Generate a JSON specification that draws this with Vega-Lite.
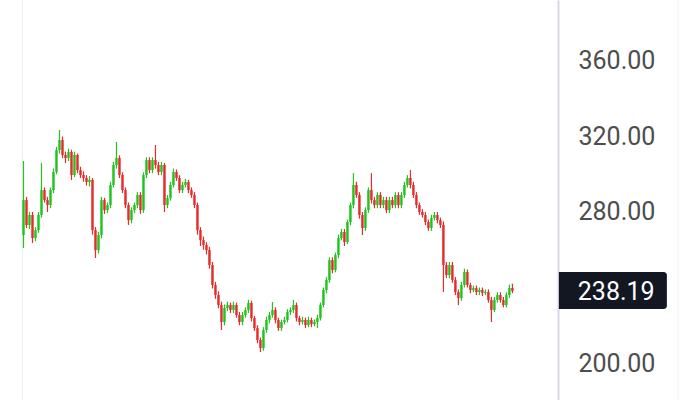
{
  "$schema": "https://vega.github.io/schema/vega-lite/v6.json",
  "width": 536,
  "height": 400,
  "autosize": "none",
  "padding": {"left": 22, "right": 142, "top": 0, "bottom": 0},
  "background": "#ffffff",
  "view": {"stroke": null},
  "config": {"font": "Roboto"},
  "data": {"values": [
    {"i":0,"o":267.8,"h":307.0,"l":260.9,"c":286.3},
    {"i":1,"o":286.3,"h":288,"l":271.5,"c":273.1},
    {"i":2,"o":273.1,"h":280,"l":271,"c":278.4},
    {"i":3,"o":278.4,"h":280,"l":263.6,"c":266.2},
    {"i":4,"o":266.2,"h":272,"l":264.5,"c":270.4},
    {"i":5,"o":270.4,"h":280,"l":269,"c":278.4},
    {"i":6,"o":278.4,"h":305.9,"l":277,"c":291.6},
    {"i":7,"o":291.6,"h":293,"l":285,"c":286.3},
    {"i":8,"o":286.3,"h":288,"l":280,"c":283.7},
    {"i":9,"o":283.7,"h":293,"l":282,"c":291.6},
    {"i":10,"o":291.6,"h":303,"l":290,"c":301.2},
    {"i":11,"o":301.2,"h":314.5,"l":300,"c":312.8},
    {"i":12,"o":312.8,"h":323.4,"l":311,"c":318.1},
    {"i":13,"o":318.1,"h":320,"l":308.5,"c":310.2},
    {"i":14,"o":310.2,"h":312,"l":306,"c":308.6},
    {"i":15,"o":308.6,"h":313.5,"l":307,"c":311.8},
    {"i":16,"o":311.8,"h":313,"l":297,"c":299.6},
    {"i":17,"o":299.6,"h":312,"l":298.5,"c":310.2},
    {"i":18,"o":310.2,"h":311,"l":300.5,"c":302.2},
    {"i":19,"o":302.2,"h":304,"l":298,"c":299.6},
    {"i":20,"o":299.6,"h":301.5,"l":296,"c":298.0},
    {"i":21,"o":298.0,"h":299.5,"l":294,"c":295.9},
    {"i":22,"o":295.9,"h":299,"l":293.5,"c":297.0},
    {"i":23,"o":297.0,"h":298,"l":268,"c":270.4},
    {"i":24,"o":270.4,"h":272,"l":255.6,"c":259.8},
    {"i":25,"o":259.8,"h":269.5,"l":258,"c":267.8},
    {"i":26,"o":267.8,"h":288,"l":266,"c":286.3},
    {"i":27,"o":286.3,"h":287.5,"l":279,"c":281.0},
    {"i":28,"o":281.0,"h":285,"l":279.5,"c":283.7},
    {"i":29,"o":283.7,"h":296,"l":282,"c":294.3},
    {"i":30,"o":294.3,"h":306.5,"l":293,"c":304.9},
    {"i":31,"o":304.9,"h":317.1,"l":303,"c":308.6},
    {"i":32,"o":308.6,"h":310,"l":298,"c":299.6},
    {"i":33,"o":299.6,"h":301,"l":290,"c":291.6},
    {"i":34,"o":291.6,"h":293,"l":282,"c":283.7},
    {"i":35,"o":283.7,"h":285,"l":273.1,"c":275.7},
    {"i":36,"o":275.7,"h":282.5,"l":274,"c":281.0},
    {"i":37,"o":281.0,"h":285,"l":279.5,"c":283.7},
    {"i":38,"o":283.7,"h":290.5,"l":282,"c":289.0},
    {"i":39,"o":289.0,"h":290.5,"l":279,"c":281.0},
    {"i":40,"o":281.0,"h":301,"l":279.5,"c":299.6},
    {"i":41,"o":299.6,"h":309,"l":298,"c":307.5},
    {"i":42,"o":307.5,"h":309,"l":300.5,"c":302.2},
    {"i":43,"o":302.2,"h":309,"l":300.5,"c":307.5},
    {"i":44,"o":307.5,"h":315.5,"l":303,"c":304.9},
    {"i":45,"o":304.9,"h":306.5,"l":299.5,"c":301.2},
    {"i":46,"o":301.2,"h":306.5,"l":299.5,"c":304.9},
    {"i":47,"o":304.9,"h":306,"l":280,"c":283.7},
    {"i":48,"o":283.7,"h":289,"l":282,"c":287.4},
    {"i":49,"o":287.4,"h":296,"l":286,"c":294.3},
    {"i":50,"o":294.3,"h":303,"l":293,"c":301.2},
    {"i":51,"o":301.2,"h":302.5,"l":296.5,"c":298.0},
    {"i":52,"o":298.0,"h":299.5,"l":290,"c":291.6},
    {"i":53,"o":291.6,"h":296,"l":290,"c":294.3},
    {"i":54,"o":294.3,"h":297.5,"l":293,"c":295.9},
    {"i":55,"o":295.9,"h":297,"l":290,"c":291.6},
    {"i":56,"o":291.6,"h":293,"l":287.5,"c":289.0},
    {"i":57,"o":289.0,"h":290.5,"l":282,"c":283.7},
    {"i":58,"o":283.7,"h":285,"l":268,"c":270.4},
    {"i":59,"o":270.4,"h":272,"l":262,"c":265.1},
    {"i":60,"o":265.1,"h":267,"l":260,"c":262.5},
    {"i":61,"o":262.5,"h":264,"l":257.5,"c":259.8},
    {"i":62,"o":259.8,"h":261.5,"l":250,"c":251.9},
    {"i":63,"o":251.9,"h":253.5,"l":239.5,"c":241.3},
    {"i":64,"o":241.3,"h":243,"l":234,"c":236.0},
    {"i":65,"o":236.0,"h":238,"l":229,"c":230.7},
    {"i":66,"o":230.7,"h":232.5,"l":217.5,"c":221.7},
    {"i":67,"o":221.7,"h":231,"l":220,"c":229.1},
    {"i":68,"o":229.1,"h":232.5,"l":227.5,"c":230.7},
    {"i":69,"o":230.7,"h":232,"l":226.5,"c":228.1},
    {"i":70,"o":228.1,"h":232.5,"l":226.5,"c":230.7},
    {"i":71,"o":230.7,"h":232,"l":224,"c":225.4},
    {"i":72,"o":225.4,"h":227,"l":220,"c":221.7},
    {"i":73,"o":221.7,"h":227,"l":220,"c":225.4},
    {"i":74,"o":225.4,"h":229.5,"l":224,"c":228.1},
    {"i":75,"o":228.1,"h":233.5,"l":226.5,"c":231.8},
    {"i":76,"o":231.8,"h":233,"l":222,"c":223.8},
    {"i":77,"o":223.8,"h":225,"l":217,"c":218.5},
    {"i":78,"o":218.5,"h":220,"l":210.5,"c":212.2},
    {"i":79,"o":212.2,"h":213.5,"l":205.8,"c":207.9},
    {"i":80,"o":207.9,"h":219,"l":206.5,"c":217.5},
    {"i":81,"o":217.5,"h":224.5,"l":216,"c":222.8},
    {"i":82,"o":222.8,"h":227,"l":221,"c":225.4},
    {"i":83,"o":225.4,"h":232.3,"l":224,"c":228.1},
    {"i":84,"o":228.1,"h":229.5,"l":221,"c":222.8},
    {"i":85,"o":222.8,"h":224,"l":217,"c":218.5},
    {"i":86,"o":218.5,"h":223,"l":217,"c":221.7},
    {"i":87,"o":221.7,"h":224.5,"l":220.5,"c":222.8},
    {"i":88,"o":222.8,"h":228.5,"l":221.5,"c":227.0},
    {"i":89,"o":227.0,"h":229.5,"l":225.5,"c":228.1},
    {"i":90,"o":228.1,"h":233.4,"l":226.5,"c":230.7},
    {"i":91,"o":230.7,"h":232,"l":222,"c":223.8},
    {"i":92,"o":223.8,"h":225,"l":220,"c":221.7},
    {"i":93,"o":221.7,"h":224.5,"l":220.5,"c":222.8},
    {"i":94,"o":222.8,"h":224,"l":218.5,"c":220.1},
    {"i":95,"o":220.1,"h":224.5,"l":219,"c":222.8},
    {"i":96,"o":222.8,"h":224,"l":219,"c":220.6},
    {"i":97,"o":220.6,"h":223,"l":219.5,"c":221.7},
    {"i":98,"o":221.7,"h":225.5,"l":218.5,"c":223.8},
    {"i":99,"o":223.8,"h":232,"l":222.5,"c":230.7},
    {"i":100,"o":230.7,"h":240,"l":229.5,"c":238.7},
    {"i":101,"o":238.7,"h":245.5,"l":237,"c":244.0},
    {"i":102,"o":244.0,"h":256,"l":242.5,"c":254.5},
    {"i":103,"o":254.5,"h":256,"l":247.5,"c":249.3},
    {"i":104,"o":249.3,"h":258.5,"l":248,"c":257.2},
    {"i":105,"o":257.2,"h":268,"l":255.5,"c":266.2},
    {"i":106,"o":266.2,"h":271,"l":265,"c":269.4},
    {"i":107,"o":269.4,"h":271,"l":262,"c":264.1},
    {"i":108,"o":264.1,"h":276,"l":263,"c":274.7},
    {"i":109,"o":274.7,"h":285,"l":273,"c":283.7},
    {"i":110,"o":283.7,"h":300.6,"l":282,"c":294.3},
    {"i":111,"o":294.3,"h":296,"l":287.5,"c":289.0},
    {"i":112,"o":289.0,"h":290.5,"l":276.5,"c":278.4},
    {"i":113,"o":278.4,"h":280,"l":267.8,"c":271.5},
    {"i":114,"o":271.5,"h":282.5,"l":270,"c":281.0},
    {"i":115,"o":281.0,"h":293,"l":279.5,"c":291.6},
    {"i":116,"o":291.6,"h":300.6,"l":284.5,"c":286.3},
    {"i":117,"o":286.3,"h":288,"l":282,"c":283.7},
    {"i":118,"o":283.7,"h":290.5,"l":282,"c":289.0},
    {"i":119,"o":289.0,"h":290.5,"l":282,"c":283.7},
    {"i":120,"o":283.7,"h":288,"l":282,"c":286.3},
    {"i":121,"o":286.3,"h":288,"l":279.5,"c":281.0},
    {"i":122,"o":281.0,"h":288,"l":279.5,"c":286.3},
    {"i":123,"o":286.3,"h":288,"l":282,"c":283.7},
    {"i":124,"o":283.7,"h":290.5,"l":282,"c":289.0},
    {"i":125,"o":289.0,"h":290.5,"l":282,"c":283.7},
    {"i":126,"o":283.7,"h":290.5,"l":282,"c":289.0},
    {"i":127,"o":289.0,"h":296,"l":287.5,"c":294.3},
    {"i":128,"o":294.3,"h":299.5,"l":293,"c":298.0},
    {"i":129,"o":298.0,"h":302.2,"l":292.5,"c":294.3},
    {"i":130,"o":294.3,"h":296,"l":287.5,"c":289.0},
    {"i":131,"o":289.0,"h":290.5,"l":282,"c":283.7},
    {"i":132,"o":283.7,"h":285,"l":278.5,"c":280.0},
    {"i":133,"o":280.0,"h":281.5,"l":277,"c":278.4},
    {"i":134,"o":278.4,"h":280,"l":273,"c":274.7},
    {"i":135,"o":274.7,"h":276,"l":270,"c":271.5},
    {"i":136,"o":271.5,"h":278.5,"l":270,"c":276.8},
    {"i":137,"o":276.8,"h":280,"l":275.5,"c":278.4},
    {"i":138,"o":278.4,"h":280,"l":274,"c":275.7},
    {"i":139,"o":275.7,"h":277,"l":271.5,"c":273.1},
    {"i":140,"o":273.1,"h":275,"l":237.6,"c":251.9},
    {"i":141,"o":251.9,"h":253.5,"l":245,"c":246.6},
    {"i":142,"o":246.6,"h":253.5,"l":245,"c":251.9},
    {"i":143,"o":251.9,"h":253.5,"l":242.5,"c":244.0},
    {"i":144,"o":244.0,"h":245.5,"l":236,"c":237.6},
    {"i":145,"o":237.6,"h":239,"l":230.7,"c":234.4},
    {"i":146,"o":234.4,"h":243,"l":233,"c":241.3},
    {"i":147,"o":241.3,"h":250,"l":240,"c":248.2},
    {"i":148,"o":248.2,"h":249.5,"l":240,"c":241.3},
    {"i":149,"o":241.3,"h":242.5,"l":237,"c":238.7},
    {"i":150,"o":238.7,"h":241,"l":237.5,"c":239.7},
    {"i":151,"o":239.7,"h":241,"l":236,"c":237.6},
    {"i":152,"o":237.6,"h":240,"l":236,"c":238.7},
    {"i":153,"o":238.7,"h":240,"l":235.5,"c":237.1},
    {"i":154,"o":237.1,"h":239,"l":236,"c":237.6},
    {"i":155,"o":237.6,"h":239,"l":232,"c":233.4},
    {"i":156,"o":233.4,"h":235,"l":221.7,"c":228.1},
    {"i":157,"o":228.1,"h":235,"l":227,"c":233.4},
    {"i":158,"o":233.4,"h":237.5,"l":232,"c":236.0},
    {"i":159,"o":236.0,"h":237.5,"l":232,"c":233.4},
    {"i":160,"o":233.4,"h":235,"l":229.5,"c":230.7},
    {"i":161,"o":230.7,"h":237.5,"l":229.5,"c":236.0},
    {"i":162,"o":236.0,"h":241.5,"l":234.5,"c":239.7},
    {"i":163,"o":239.7,"h":242,"l":237,"c":238.19}
  ]},
  "encoding": {
    "x": {"field": "i", "type": "quantitative", "scale": {"domain": [-0.5, 178.2], "nice": false, "zero": false, "padding": 0}, "axis": null}
  },
  "layer": [
    {
      "mark": {"type": "rule", "strokeWidth": 1.2},
      "encoding": {
        "y": {"field": "l", "type": "quantitative", "scale": {"domain": [180.4, 392.3], "nice": false, "zero": false},
          "axis": {"orient": "left", "labels": false, "ticks": false, "grid": false, "title": null, "domainColor": "#eeeeee", "domainWidth": 1}},
        "y2": {"field": "h"},
        "color": {"condition": {"test": "datum.c >= datum.o", "value": "#1fc41f"}, "value": "#e62b2b"}
      }
    },
    {
      "mark": {"type": "bar", "size": 2.4, "minBandSize": 1},
      "encoding": {
        "y": {"field": "o", "type": "quantitative",
          "axis": {"orient": "right", "values": [200, 280, 320, 360], "format": ".2f", "grid": false, "ticks": false, "title": null,
            "labelFontSize": 25, "labelColor": "#4d4d4d", "labelPadding": 20, "labelAlign": "left", "labelFont": "Roboto",
            "domainColor": "#d6dae3", "domainWidth": 2}},
        "y2": {"field": "c"},
        "color": {"condition": {"test": "datum.c >= datum.o", "value": "#1fc41f"}, "value": "#e62b2b"}
      }
    },
    {
      "data": {"values": [{"edge": 218.2}]},
      "mark": {"type": "rule", "stroke": "#eff1f5", "strokeWidth": 1},
      "encoding": {"x": {"field": "edge", "type": "quantitative"}}
    },
    {
      "data": {"values": [{"last": 238.19, "lo": 228.6, "hi": 248.2, "x0": 178.5, "x1": 214.5, "xt": 184.8, "label": "238.19"}]},
      "layer": [
        {
          "mark": {"type": "rect", "color": "#131722", "cornerRadiusTopRight": 3, "cornerRadiusBottomRight": 3},
          "encoding": {
            "x": {"field": "x0", "type": "quantitative"},
            "x2": {"field": "x1"},
            "y": {"field": "lo", "type": "quantitative", "axis": null},
            "y2": {"field": "hi"}
          }
        },
        {
          "mark": {"type": "text", "color": "#ffffff", "fontSize": 25, "font": "Roboto", "align": "left", "baseline": "middle", "dy": 1},
          "encoding": {
            "x": {"field": "xt", "type": "quantitative"},
            "y": {"field": "last", "type": "quantitative", "axis": null},
            "text": {"field": "label"}
          }
        }
      ]
    }
  ],
  "resolve": {"axis": {"y": "independent"}}
}
